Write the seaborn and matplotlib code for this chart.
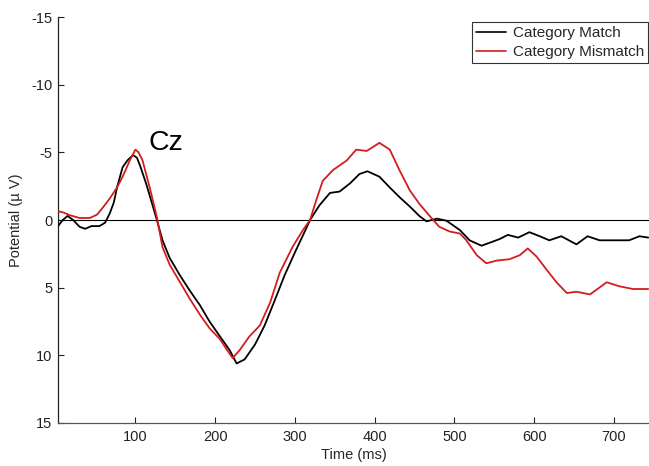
import matplotlib
matplotlib.use("Agg")
import matplotlib.pyplot as plt
import seaborn as sns
import pandas as pd

# ---- data ----
match_t = [3, 9, 15, 22, 30, 37, 45, 55, 62, 68, 73, 77, 84, 90, 97, 102, 106, 114, 122, 127,
           134, 143, 156, 168, 181, 193, 206, 218, 227, 237, 250, 262, 275, 287, 300, 312, 319,
           331, 344, 356, 369, 381, 391, 406, 419, 431, 444, 456, 465, 478, 490, 507, 519, 534,
           548, 557, 567, 580, 594, 607, 619, 634, 653, 667, 682, 703, 719, 732, 743]
match_v = [0.45, 0.0, -0.3, 0.0, 0.5, 0.65, 0.45, 0.45, 0.2, -0.5, -1.3, -2.4, -3.9, -4.4, -4.8,
           -4.6, -4.0, -2.6, -1.0, 0.0, 1.5, 2.8, 4.1, 5.2, 6.3, 7.5, 8.6, 9.6, 10.6, 10.3, 9.2,
           7.8, 5.9, 4.1, 2.4, 0.9, 0.0, -1.1, -2.0, -2.1, -2.7, -3.4, -3.6, -3.2, -2.4, -1.7,
           -1.0, -0.3, 0.1, -0.1, 0.05, 0.75, 1.5, 1.9, 1.6, 1.4, 1.1, 1.3, 0.9, 1.2, 1.5, 1.2,
           1.8, 1.2, 1.5, 1.5, 1.5, 1.2, 1.3]

mismatch_t = [3, 10, 18, 30, 43, 52, 59, 68, 77, 84, 93, 100, 104, 109, 118, 127, 134, 143, 156,
              168, 181, 193, 206, 216, 222, 231, 243, 256, 269, 281, 297, 310, 319, 327, 335, 348,
              365, 377, 390, 406, 419, 431, 444, 456, 469, 481, 494, 507, 515, 528, 540, 553, 569,
              582, 592, 603, 616, 628, 641, 653, 670, 691, 707, 724, 743]
mismatch_v = [-0.65, -0.55, -0.35, -0.15, -0.15, -0.4, -0.9, -1.6, -2.4, -3.2, -4.4, -5.2, -5.0,
              -4.4, -2.4, -0.2, 2.0, 3.3, 4.6, 5.8, 7.0, 8.0, 8.8, 9.7, 10.2, 9.6, 8.6, 7.8, 6.1,
              3.9, 2.0, 0.75, 0.0, -1.5, -2.9, -3.7, -4.4, -5.2, -5.1, -5.7, -5.2, -3.7, -2.2,
              -1.2, -0.3, 0.5, 0.85, 1.0, 1.5, 2.6, 3.2, 3.0, 2.9, 2.6, 2.1, 2.7, 3.7, 4.6, 5.4,
              5.3, 5.5, 4.6, 4.9, 5.1, 5.1]

series_names = ["Category Match", "Category Mismatch"]
x_ticks = [100, 200, 300, 400, 500, 600, 700]
y_ticks = [-15, -10, -5, 0, 5, 10, 15]
electrode = "Cz"

df = pd.concat([
    pd.DataFrame({"t": match_t, "v": match_v, "cond": series_names[0]}),
    pd.DataFrame({"t": mismatch_t, "v": mismatch_v, "cond": series_names[1]}),
], ignore_index=True)

sns.set_theme(style="white")
plt.rcParams["font.family"] = ["Liberation Sans", "DejaVu Sans"]
plt.rcParams["axes.unicode_minus"] = False

FS = 10.5
fig = plt.figure(figsize=(6.49, 4.66), dpi=100)
ax = fig.add_axes([58 / 649, 1 - 423 / 466, 1 - 58 / 649, (423 - 17) / 466])

ax.axhline(0, color="black", lw=0.8, zorder=1)
sns.lineplot(data=df, x="t", y="v", hue="cond", palette=["black", "#d41c1c"],
             sort=False, estimator=None, lw=1.3, ax=ax, zorder=3)

ax.set_xlim(3, 744)
ax.set_ylim(15, -15)
ax.set_xticks(x_ticks)
ax.set_yticks(y_ticks)
ax.set_xticklabels([str(v) for v in x_ticks])
ax.set_yticklabels([str(v) for v in y_ticks])
ax.tick_params(direction="in", length=4, width=0.8, labelsize=FS, colors="#222222",
               left=True, bottom=True)
ax.tick_params(axis="y", pad=4)
ax.tick_params(axis="x", pad=5)
for s in ["top", "right"]:
    ax.spines[s].set_visible(False)
ax.spines["left"].set_color("#222222")
ax.spines["bottom"].set_color("#555555")
ax.spines["left"].set_linewidth(0.9)
ax.spines["bottom"].set_linewidth(0.9)

ax.set_xlabel("Time (ms)", fontsize=FS, labelpad=3)
ax.set_ylabel("Potential (\u00b5 V)", fontsize=FS, labelpad=6)

ax.text(116, -5.2, electrode, fontsize=20.5, va="baseline", ha="left", color="black")

leg = ax.legend(loc="upper left", bbox_to_anchor=((472 - 58) / (649 - 58), (423 - 22) / 406),
                fontsize=11, frameon=True, fancybox=False, edgecolor="black",
                handlelength=1.95, borderpad=0.28, labelspacing=0.3, handletextpad=0.45,
                borderaxespad=0)
leg.get_frame().set_linewidth(0.8)
for line in leg.get_lines():
    line.set_linewidth(1.2)

fig.savefig("out.png", dpi=100)
